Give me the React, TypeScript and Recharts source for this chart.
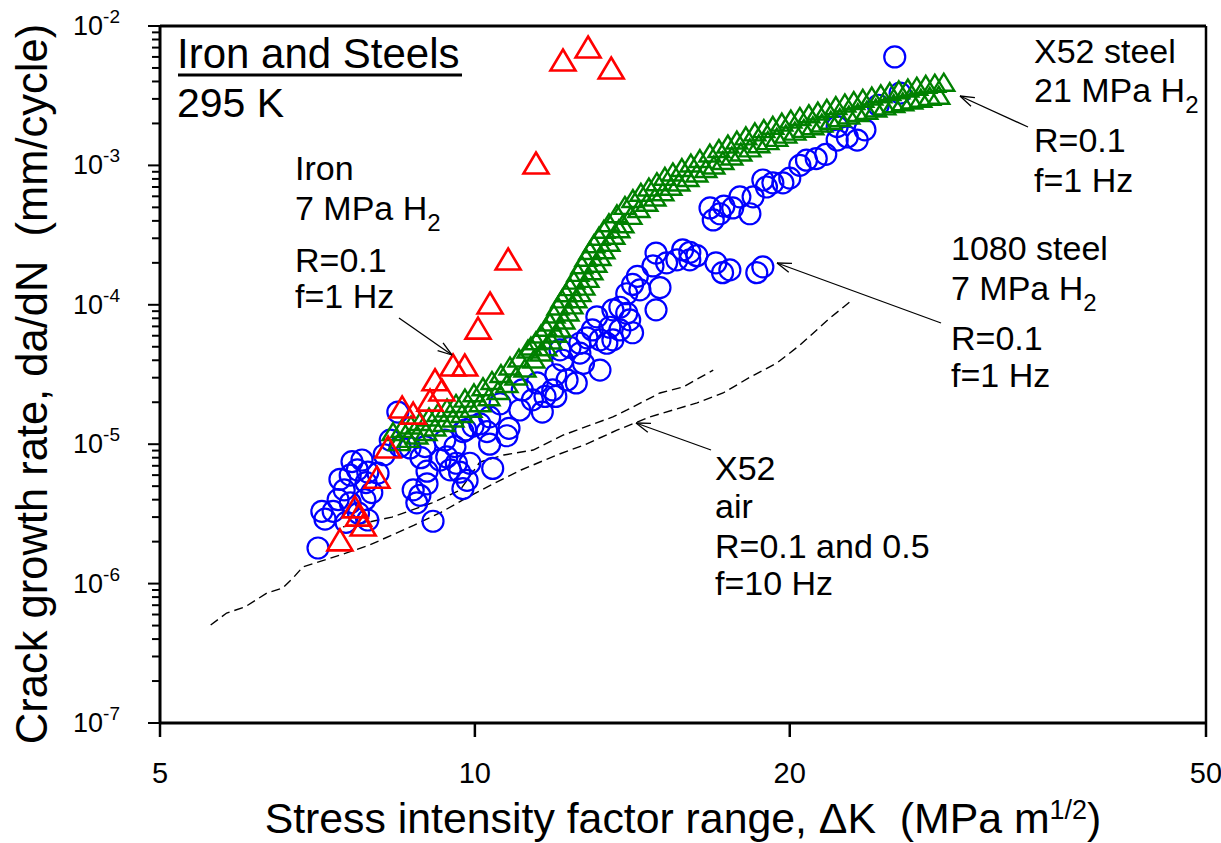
import React from 'react';
import { ScatterChart, Scatter, XAxis, YAxis, ReferenceLine } from 'recharts';

const FONT = '"Liberation Sans", Arial, Helvetica, sans-serif';
const CHART_W = 1221;
const CHART_H = 843;
const PLOT_LEFT = 160;
const PLOT_TOP = 26;
const PLOT_BOTTOM = 723;

// ---- axes ----
const xDomain: [number, number] = [5, 50];
const xTicks = [5, 10, 20, 50];
const yDomain: [number, number] = [1e-7, 1e-2];
const yDecades = [1e-7, 1e-6, 1e-5, 1e-4, 1e-3, 1e-2];
const yDecadeExponents = ['-7', '-6', '-5', '-4', '-3', '-2'];
const yMinorMultipliers = [2, 3, 4, 5, 6, 7, 8, 9];

type Pt = [number, number];

// ---- Iron, 7 MPa H2 (red open triangles) ----
const ironH2: Pt[] = [
  [12.83, 7.07e-3], [12.14, 5.7e-3], [13.5, 5.0e-3], [11.44, 1.04e-3], [10.76, 2.13e-4],
  [10.34, 1.03e-4], [10.07, 6.8e-5], [9.78, 3.7e-5], [9.53, 3.7e-5], [9.3, 2.45e-5],
  [9.16, 2.9e-5], [9.06, 2.07e-5], [8.73, 1.67e-5], [8.52, 1.85e-5], [8.26, 9.55e-6],
  [8.06, 5.8e-6], [7.68, 3.55e-6], [7.82, 2.63e-6], [7.74, 3.1e-6], [7.43, 2.06e-6],
];

// ---- 1080 steel, 7 MPa H2 (blue open circles) ----
const steel1080Low: Pt[] = [
  [7.08, 1.8e-6], [7.14, 3.3e-6], [7.19, 2.9e-6], [7.32, 3.3e-6], [7.4, 4.0e-6], [7.5, 4.7e-6],
  [7.43, 5.6e-6], [7.6, 6.0e-6], [7.63, 7.5e-6], [7.8, 7.7e-6], [7.72, 6.55e-6], [7.9, 6.3e-6],
  [8.08, 6.2e-6], [7.87, 5.3e-6], [7.97, 4.5e-6], [7.85, 4.0e-6], [7.6, 3.8e-6], [7.74, 3.2e-6],
  [7.9, 2.86e-6], [7.53, 2.75e-6], [8.19, 8.4e-6], [8.3, 1.07e-5], [8.48, 9.6e-6], [8.67, 9.4e-6],
  [8.88, 8.0e-6], [8.96, 9.6e-6], [8.44, 1.7e-5],
  [8.73, 4.7e-6], [8.86, 4.3e-6], [9.0, 5.2e-6], [8.8, 3.8e-6], [9.12, 2.8e-6], [9.0, 6.4e-6],
  [9.26, 7.7e-6], [9.4, 8.1e-6], [9.6, 7.3e-6], [9.67, 6.3e-6], [9.47, 6.55e-6], [9.89, 7.3e-6],
  [9.57, 9.6e-6], [9.83, 5.5e-6], [9.74, 4.8e-6], [10.4, 6.7e-6], [10.33, 1.0e-5], [10.73, 1.15e-5],
  [10.78, 1.3e-5], [10.27, 1.23e-5], [9.74, 1.23e-5], [9.96, 1.35e-5], [9.36, 1.07e-5],
];
const steel1080Mid: Pt[] = [
  [9.8, 1.27e-5], [10.11, 1.4e-5], [10.33, 1.57e-5], [10.57, 1.95e-5], [11.04, 1.76e-5],
  [11.35, 2.08e-5], [11.67, 2.2e-5], [11.1, 2.45e-5], [11.47, 2.75e-5], [11.87, 2.45e-5],
  [12.25, 2.89e-5], [12.5, 2.75e-5], [11.95, 3.15e-5], [12.13, 4.0e-5], [12.06, 4.75e-5],
  [12.33, 4.95e-5], [12.6, 5.3e-5], [12.8, 5.8e-5], [12.95, 6.6e-5], [13.17, 5.6e-5],
  [13.37, 5.3e-5], [13.55, 5.6e-5], [13.46, 6.9e-5], [13.08, 8.2e-5], [13.76, 6.6e-5],
  [13.97, 8.7e-5], [14.15, 1.4e-4], [13.97, 1.2e-4], [13.76, 9.6e-5], [12.6, 4.5e-5],
  [12.7, 3.8e-5], [13.17, 3.4e-5], [13.55, 9.2e-5], [14.06, 7.8e-5], [14.15, 6.3e-5],
  [11.95, 2.2e-5], [11.6, 1.7e-5], [14.9, 9.2e-5],
];
const steel1080Plateau: Pt[] = [
  [14.3, 1.6e-4], [14.38, 1.28e-4], [14.8, 1.9e-4], [14.9, 2.35e-4], [15.03, 1.33e-4],
  [15.25, 2.0e-4], [15.6, 2.1e-4], [15.8, 2.48e-4], [16.05, 2.38e-4], [16.3, 2.25e-4],
  [16.05, 2.1e-4], [17.0, 2.0e-4], [17.25, 1.7e-4], [17.53, 1.78e-4], [18.6, 1.7e-4],
  [18.85, 1.87e-4],
];
const steel1080High: Pt[] = [
  [16.78, 4.95e-4], [16.9, 4.06e-4], [17.15, 4.5e-4], [17.64, 4.95e-4], [17.3, 5.1e-4],
  [17.92, 5.95e-4], [18.32, 4.5e-4], [18.45, 5.95e-4], [19.0, 7.0e-4], [18.85, 7.86e-4],
  [19.27, 7.5e-4], [19.7, 7.5e-4], [20.0, 8.1e-4], [20.75, 1.09e-3], [21.2, 1.12e-3],
  [21.65, 1.2e-3], [22.2, 1.9e-3], [22.2, 1.52e-3], [22.7, 1.6e-3], [23.2, 1.52e-3],
  [23.6, 1.8e-3], [24.3, 2.7e-3], [25.5, 3.3e-3], [25.2, 6.0e-3], [20.45, 1.0e-3],
];

// ---- X52 steel, 21 MPa H2 (green open triangles, dense two-row band) ----
const x52H2Upper: Pt[] = [
  [8.352, 1.232e-5], [8.518, 1.299e-5], [8.688, 1.374e-5], [8.862, 1.455e-5], [9.039, 1.568e-5],
  [9.22, 1.689e-5], [9.405, 1.819e-5], [9.593, 1.959e-5], [9.784, 2.14e-5], [9.98, 2.339e-5],
  [10.18, 2.583e-5], [10.383, 2.866e-5], [10.591, 3.213e-5], [10.803, 3.64e-5], [11.019, 4.153e-5],
  [11.24, 4.817e-5],
  [11.314, 5.062e-5], [11.439, 5.526e-5], [11.565, 6.178e-5], [11.693, 6.896e-5], [11.797, 7.527e-5],
  [11.901, 8.592e-5], [12.007, 9.808e-5], [12.112, 1.102e-4], [12.219, 1.219e-4], [12.328, 1.35e-4],
  [12.436, 1.504e-4], [12.547, 1.708e-4], [12.657, 1.936e-4], [12.77, 2.191e-4], [12.882, 2.452e-4],
  [12.995, 2.743e-4], [13.14, 3.1e-4], [13.285, 3.479e-4], [13.432, 3.88e-4],
  [13.671, 4.495e-4], [13.914, 5.164e-4], [14.161, 5.787e-4], [14.412, 6.412e-4], [14.668, 6.997e-4],
  [14.928, 7.637e-4], [15.194, 8.354e-4], [15.463, 8.969e-4], [15.772, 9.657e-4], [16.088, 1.04e-3],
  [16.41, 1.12e-3],
  [16.775, 1.227e-3], [17.111, 1.322e-3], [17.453, 1.424e-3], [17.802, 1.521e-3], [18.158, 1.628e-3],
  [18.521, 1.741e-3], [18.891, 1.836e-3], [19.268, 1.939e-3], [19.654, 2.044e-3], [20.048, 2.147e-3],
  [20.449, 2.245e-3], [20.858, 2.347e-3], [21.276, 2.454e-3], [21.7, 2.567e-3], [22.135, 2.684e-3],
  [22.578, 2.806e-3], [23.028, 2.92e-3], [23.489, 3.029e-3], [23.959, 3.146e-3], [24.439, 3.263e-3],
  [24.927, 3.383e-3], [25.426, 3.487e-3], [25.936, 3.591e-3], [26.453, 3.7e-3], [26.982, 3.812e-3],
  [27.522, 3.888e-3], [28.071, 3.953e-3],
];
const x52H2Lower: Pt[] = [
  [8.463, 1.044e-5], [8.632, 1.101e-5], [8.803, 1.165e-5], [8.98, 1.234e-5], [9.16, 1.329e-5],
  [9.342, 1.432e-5], [9.529, 1.542e-5], [9.72, 1.661e-5], [9.915, 1.813e-5], [10.113, 1.982e-5],
  [10.315, 2.19e-5], [10.522, 2.43e-5], [10.732, 2.723e-5], [10.947, 3.088e-5], [11.166, 3.522e-5],
  [11.388, 4.085e-5],
  [11.565, 4.586e-5], [11.693, 5.005e-5], [11.823, 5.59e-5], [11.954, 6.25e-5], [12.059, 6.816e-5],
  [12.165, 7.78e-5], [12.274, 8.882e-5], [12.382, 9.989e-5], [12.492, 1.104e-4], [12.602, 1.223e-4],
  [12.713, 1.362e-4], [12.826, 1.547e-4], [12.939, 1.754e-4], [13.053, 1.985e-4], [13.169, 2.22e-4],
  [13.285, 2.484e-4], [13.432, 2.807e-4], [13.58, 3.152e-4], [13.731, 3.514e-4],
  [13.852, 3.81e-4], [14.099, 4.378e-4], [14.349, 4.906e-4], [14.603, 5.435e-4], [14.863, 5.933e-4],
  [15.126, 6.476e-4], [15.396, 7.079e-4], [15.669, 7.6e-4], [15.983, 8.19e-4], [16.302, 8.822e-4],
  [16.628, 9.498e-4],
  [16.923, 1.006e-3], [17.261, 1.084e-3], [17.607, 1.167e-3], [17.959, 1.247e-3], [18.318, 1.335e-3],
  [18.684, 1.429e-3], [19.059, 1.506e-3], [19.439, 1.59e-3], [19.828, 1.677e-3], [20.226, 1.762e-3],
  [20.629, 1.842e-3], [21.042, 1.926e-3], [21.463, 2.014e-3], [21.892, 2.106e-3], [22.33, 2.201e-3],
  [22.777, 2.301e-3], [23.233, 2.394e-3], [23.697, 2.483e-3], [24.171, 2.579e-3], [24.656, 2.675e-3],
  [25.146, 2.774e-3], [25.65, 2.858e-3], [26.164, 2.944e-3], [26.687, 3.034e-3], [27.22, 3.126e-3],
  [27.764, 3.188e-3],
];

// ---- X52 air (dashed curves) ----
const x52AirA: Pt[] = [
  [5.59, 5.05e-7], [5.79, 6.15e-7], [6.03, 6.8e-7], [6.33, 8.57e-7], [6.55, 9.3e-7],
  [6.71, 1.11e-6], [6.85, 1.32e-6], [7.19, 1.48e-6], [7.54, 1.66e-6], [7.93, 1.89e-6],
  [8.33, 2.23e-6], [8.75, 2.63e-6], [9.29, 3.26e-6], [9.85, 4.18e-6], [10.45, 5.27e-6],
  [11.07, 6.53e-6], [11.98, 8.37e-6], [12.72, 9.87e-6], [13.67, 1.26e-5], [14.7, 1.57e-5],
  [16.31, 1.98e-5], [17.27, 2.33e-5], [18.33, 3.03e-5], [19.45, 3.83e-5], [20.46, 5.15e-5],
  [21.85, 8.04e-5], [22.94, 1.08e-4],
];
const x52AirB: Pt[] = [
  [7.48, 2.55e-6], [7.93, 2.77e-6], [8.33, 3.0e-6], [9.1, 3.79e-6], [9.68, 4.69e-6],
  [10.11, 7.45e-6], [10.66, 8.37e-6], [11.37, 9.08e-6], [12.14, 1.16e-5], [12.89, 1.37e-5],
  [13.55, 1.57e-5], [13.98, 1.76e-5], [15.03, 2.33e-5], [15.81, 2.57e-5], [16.9, 3.4e-5],
];

const toXY = (arr: Pt[]) => arr.map(([x, y]) => ({ x, y }));

const yTicks: number[] = [];
yDecades.forEach((d, i) => {
  yTicks.push(d);
  if (i < yDecades.length - 1) yMinorMultipliers.forEach((m) => yTicks.push(m * d));
});

const majorIndex = (v: number) => yDecades.findIndex((d) => Math.abs(v - d) / d < 1e-6);

const YTick = (props: any) => {
  const { y, payload } = props;
  const idx = majorIndex(payload.value);
  const major = idx >= 0;
  return (
    <g>
      <line x1={PLOT_LEFT - (major ? 12 : 8)} x2={PLOT_LEFT} y1={y} y2={y} stroke="#000" strokeWidth={2} />
      {major && (
        <text x={120} y={y + 9} textAnchor="end" fontFamily={FONT} fontSize={27} fill="#000">
          <tspan>10</tspan>
          <tspan dy={-12} fontSize={19}>{yDecadeExponents[idx]}</tspan>
        </text>
      )}
    </g>
  );
};

const XTick = (props: any) => {
  const { x, payload } = props;
  return (
    <g>
      <line x1={x} x2={x} y1={PLOT_BOTTOM} y2={PLOT_BOTTOM + 14} stroke="#000" strokeWidth={2.5} />
      <text x={x} y={783} textAnchor="middle" fontFamily={FONT} fontSize={29} fill="#000">
        {payload.value}
      </text>
    </g>
  );
};

const RedTriangle = (p: any) => {
  const { cx, cy } = p;
  const w = 25;
  const h = 21;
  return (
    <polygon
      points={`${cx},${cy - h / 2} ${cx + w / 2},${cy + h / 2} ${cx - w / 2},${cy + h / 2}`}
      fill="none"
      stroke="#ff0000"
      strokeWidth={2.6}
    />
  );
};

const GreenTriangle = (p: any) => {
  const { cx, cy } = p;
  const w = 21;
  const h = 17;
  return (
    <polygon
      points={`${cx},${cy - h / 2} ${cx + w / 2},${cy + h / 2} ${cx - w / 2},${cy + h / 2}`}
      fill="none"
      stroke="#008000"
      strokeWidth={2.4}
    />
  );
};

const BlueCircle = (p: any) => {
  const { cx, cy } = p;
  return <circle cx={cx} cy={cy} r={10.5} fill="none" stroke="#0000ff" strokeWidth={2.2} />;
};

const NoPoint = () => <g />;

const Arrow = ({ x1, y1, x2, y2 }: { x1: number; y1: number; x2: number; y2: number }) => {
  const a = Math.atan2(y1 - y2, x1 - x2);
  const L = 15;
  const s = 0.32;
  return (
    <g stroke="#000" strokeWidth={1.3} fill="none">
      <line x1={x1} y1={y1} x2={x2} y2={y2} />
      <line x1={x2} y1={y2} x2={x2 + L * Math.cos(a + s)} y2={y2 + L * Math.sin(a + s)} />
      <line x1={x2} y1={y2} x2={x2 + L * Math.cos(a - s)} y2={y2 + L * Math.sin(a - s)} />
    </g>
  );
};

const T = ({ x, y, size = 34, children }: { x: number; y: number; size?: number; children: React.ReactNode }) => (
  <text x={x} y={y} fontFamily={FONT} fontSize={size} fill="#000" style={{ whiteSpace: 'pre' }}>
    {children}
  </text>
);

const Sub = ({ children }: { children: React.ReactNode }) => (
  <tspan dy={11} fontSize={24}>{children}</tspan>
);

export default function App() {
  return (
    <div style={{ position: 'absolute', left: 0, top: 0, width: CHART_W, height: CHART_H, background: '#fff' }}>
      <ScatterChart width={CHART_W} height={CHART_H} margin={{ top: PLOT_TOP, right: 15, bottom: 0, left: 0 }}>
        <XAxis
          type="number"
          dataKey="x"
          scale="log"
          domain={xDomain}
          ticks={xTicks}
          interval={0}
          allowDataOverflow
          height={120}
          axisLine={{ stroke: '#000', strokeWidth: 3 }}
          tickLine={false}
          tick={<XTick />}
        />
        <YAxis
          type="number"
          dataKey="y"
          scale="log"
          domain={yDomain}
          ticks={yTicks}
          interval={0}
          allowDataOverflow
          width={160}
          axisLine={{ stroke: '#000', strokeWidth: 3 }}
          tickLine={false}
          tick={<YTick />}
        />
        <ReferenceLine y={1e-2} stroke="#000" strokeWidth={3} />
        <ReferenceLine x={50} stroke="#000" strokeWidth={2.5} />
        <Scatter
          data={toXY(x52AirA)}
          line={{ stroke: '#000', strokeWidth: 1.4, strokeDasharray: '9 5' }}
          lineType="joint"
          shape={NoPoint}
          isAnimationActive={false}
        />
        <Scatter
          data={toXY(x52AirB)}
          line={{ stroke: '#000', strokeWidth: 1.4, strokeDasharray: '9 5' }}
          lineType="joint"
          shape={NoPoint}
          isAnimationActive={false}
        />
        <Scatter data={toXY(steel1080Low)} shape={BlueCircle} isAnimationActive={false} />
        <Scatter data={toXY(steel1080Mid)} shape={BlueCircle} isAnimationActive={false} />
        <Scatter data={toXY(steel1080Plateau)} shape={BlueCircle} isAnimationActive={false} />
        <Scatter data={toXY(steel1080High)} shape={BlueCircle} isAnimationActive={false} />
        <Scatter data={toXY(x52H2Lower)} shape={GreenTriangle} isAnimationActive={false} />
        <Scatter data={toXY(x52H2Upper)} shape={GreenTriangle} isAnimationActive={false} />
        <Scatter data={toXY(ironH2)} shape={RedTriangle} isAnimationActive={false} />
      </ScatterChart>
      <svg
        width={CHART_W}
        height={CHART_H}
        style={{ position: 'absolute', left: 0, top: 0, pointerEvents: 'none' }}
      >
        {/* axis titles */}
        <text
          x={683}
          y={833}
          textAnchor="middle"
          fontFamily={FONT}
          fontSize={42.8}
          fill="#000"
          style={{ whiteSpace: 'pre' }}
        >
          <tspan>Stress intensity factor range, ΔK  (MPa m</tspan>
          <tspan dy={-14} fontSize={27}>1/2</tspan>
          <tspan dy={14}>)</tspan>
        </text>
        <text
          x={47}
          y={384}
          transform="rotate(-90 47 384)"
          textAnchor="middle"
          fontFamily={FONT}
          fontSize={43.5}
          fill="#000"
          style={{ whiteSpace: 'pre' }}
        >
          Crack growth rate, da/dN  (mm/cycle)
        </text>

        {/* title block */}
        <T x={177} y={68} size={42}>Iron and Steels</T>
        <line x1={178} x2={462} y1={75} y2={75} stroke="#000" strokeWidth={3} />
        <T x={177} y={117} size={41}>295 K</T>

        {/* Iron annotation */}
        <T x={295} y={180}>Iron</T>
        <T x={295} y={220}>7 MPa H<Sub>2</Sub></T>
        <T x={295} y={272}>R=0.1</T>
        <T x={295} y={308}>f=1 Hz</T>
        <Arrow x1={399} y1={318} x2={452} y2={355} />

        {/* X52 H2 annotation */}
        <T x={1034} y={63}>X52 steel</T>
        <T x={1034} y={102}>21 MPa H<Sub>2</Sub></T>
        <T x={1034} y={152}>R=0.1</T>
        <T x={1034} y={192}>f=1 Hz</T>
        <Arrow x1={1028} y1={127} x2={960} y2={96} />

        {/* 1080 annotation */}
        <T x={951} y={260}>1080 steel</T>
        <T x={951} y={300}>7 MPa H<Sub>2</Sub></T>
        <T x={951} y={350}>R=0.1</T>
        <T x={951} y={387}>f=1 Hz</T>
        <Arrow x1={941} y1={323} x2={777} y2={263} />

        {/* X52 air annotation */}
        <T x={715} y={480}>X52</T>
        <T x={715} y={518}>air</T>
        <T x={715} y={558}>R=0.1 and 0.5</T>
        <T x={715} y={595}>f=10 Hz</T>
        <Arrow x1={711} y1={450} x2={636} y2={423} />
      </svg>
    </div>
  );
}
